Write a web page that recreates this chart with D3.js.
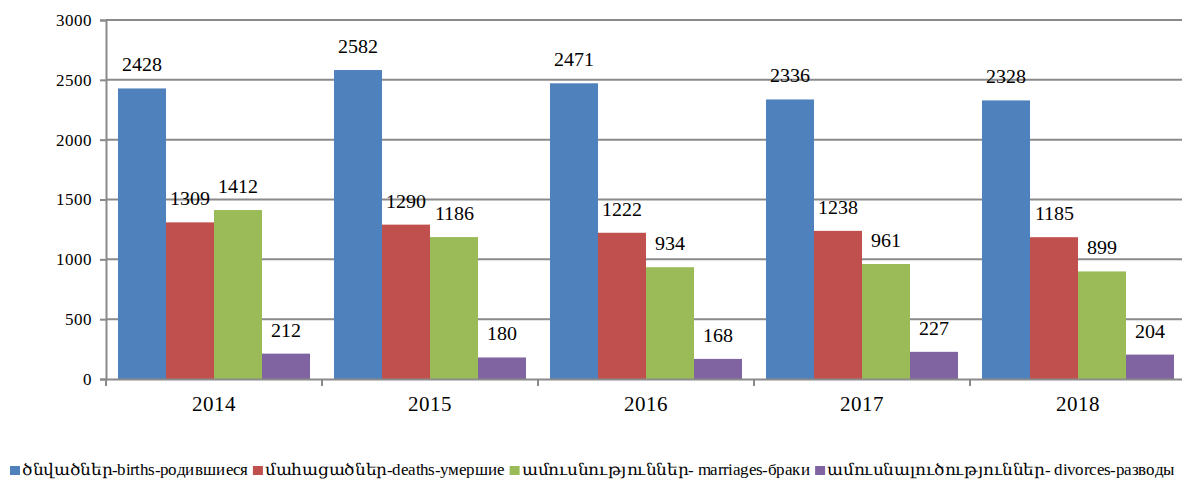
<!DOCTYPE html>
<html>
<head>
<meta charset="utf-8">
<script src="https://cdn.jsdelivr.net/npm/d3@7"></script>
<style>
  @font-face { font-family: "ChartSerif"; src: local("DejaVu Serif"); unicode-range: U+0530-058F; }
  @font-face { font-family: "ChartSerif"; src: local("Liberation Serif"); unicode-range: U+0000-052F, U+2000-206F; }
  body { margin: 0; background: #fff; }
  svg text { font-family: "ChartSerif", "Liberation Serif", "DejaVu Serif", serif; fill: #000; }
</style>
</head>
<body>
<svg id="chart"></svg>
<script>
    var years = ['2014', '2015', '2016', '2017', '2018'];
    var seriesNames = [
        'ծնվածներ-births-родившиеся',
        'մահացածներ-deaths-умершие',
        'ամուսնություններ- marriages-браки',
        'ամուսնալուծություններ- divorces-разводы'
    ];
    var births = [2428, 2582, 2471, 2336, 2328];
    var deaths = [1309, 1290, 1222, 1238, 1185];
    var marriages = [1412, 1186, 934, 961, 899];
    var divorces = [212, 180, 168, 227, 204];
    var yTicks = [0, 500, 1000, 1500, 2000, 2500, 3000];
    var colors = ['#4F81BD', '#C0504D', '#9BBB59', '#8064A2'];

    var width = 1182;
    var height = 480;
    var allSeries = [births, deaths, marriages, divorces];
    var serif = '"ChartSerif", "Liberation Serif", serif';

    var chart = d3.select('#chart')
        .attr('width', width)
        .attr('height', height);

    var x = d3.scaleBand().domain(years).range([106, 1186]);
    var xs = d3.scaleBand().domain(d3.range(4)).range([12, x.bandwidth() - 12]);
    var y = d3.scaleLinear().domain([0, 3000]).range([379, 20]);

    // gridlines
    chart.append('g').selectAll('line')
        .data(yTicks.slice(1))
        .enter().append('line')
        .attr('x1', 106).attr('x2', width)
        .attr('y1', function(d){ return y(d); })
        .attr('y2', function(d){ return y(d); })
        .attr('stroke', '#8a8a8a')
        .attr('stroke-width', 2);

    // bars
    var groups = chart.append('g').selectAll('g')
        .data(years)
        .enter().append('g')
        .attr('transform', function(d){ return 'translate(' + x(d) + ',0)'; });

    groups.selectAll('rect')
        .data(function(d, i){ return allSeries.map(function(s, k){ return {k: k, v: s[i]}; }); })
        .enter().append('rect')
        .attr('x', function(d){ return xs(d.k); })
        .attr('width', xs.bandwidth())
        .attr('y', function(d){ return y(d.v); })
        .attr('height', function(d){ return y(0) - y(d.v); })
        .attr('fill', function(d){ return colors[d.k]; });

    groups.selectAll('text')
        .data(function(d, i){ return allSeries.map(function(s, k){ return {k: k, v: s[i]}; }); })
        .enter().append('text')
        .attr('x', function(d){ return xs(d.k) + xs.bandwidth() / 2; })
        .attr('y', function(d){ return y(d.v) - 17; })
        .attr('text-anchor', 'middle')
        .attr('font-family', serif)
        .style('font-size', '20px')
        .text(function(d){ return d.v; });

    // y axis
    var yAxis = d3.axisLeft(y).tickValues(yTicks).tickFormat(d3.format('d'))
        .tickSize(6).tickPadding(8);
    var axisY = chart.append('g')
        .attr('transform', 'translate(106,0)')
        .call(yAxis)
        .attr('font-family', serif)
        .attr('font-size', 17);
    axisY.select('.domain').attr('stroke', '#8a8a8a').attr('stroke-width', 2);
    axisY.selectAll('.tick line').attr('stroke', '#8a8a8a').attr('stroke-width', 2);
    axisY.selectAll('.tick text').attr('fill', '#000');

    // x axis
    var xAxis = d3.axisBottom(x).tickSize(0).tickPadding(17);
    var axisX = chart.append('g')
        .attr('transform', 'translate(0,379)')
        .call(xAxis)
        .attr('font-family', serif)
        .attr('font-size', 21);
    axisX.select('.domain').attr('stroke', '#8a8a8a').attr('stroke-width', 2);
    axisX.selectAll('.tick text').attr('fill', '#000');
    axisX.selectAll('line.sep')
        .data(years)
        .enter().append('line')
        .attr('class', 'sep')
        .attr('x1', function(d){ return x(d); })
        .attr('x2', function(d){ return x(d); })
        .attr('y1', 0).attr('y2', 7)
        .attr('stroke', '#8a8a8a').attr('stroke-width', 2);

    // legend - stretched to span the full width like the original
    var legend = chart.append('g').attr('transform', 'translate(0,470)');
    var items = seriesNames.map(function(name, k){
        var item = legend.append('g');
        item.append('rect')
            .attr('x', 0).attr('y', -4)
            .attr('width', 10).attr('height', 9)
            .attr('fill', colors[k]);
        var t = item.append('text')
            .attr('x', 12).attr('y', 5)
            .attr('font-family', serif)
            .style('font-size', '16px')
            .text(name);
        return {g: item, t: t, w: t.node().getComputedTextLength()};
    });
    var fixed = 10 + items.length * 12 + (items.length - 1) * 5;
    var scale = (1175 - fixed) / d3.sum(items, function(d){ return d.w; });
    var lx = 10;
    items.forEach(function(d){
        var w = d.w * scale;
        d.g.attr('transform', 'translate(' + lx + ',0)');
        d.t.attr('textLength', w).attr('lengthAdjust', 'spacingAndGlyphs');
        lx += 12 + w + 5;
    });
</script>
</body>
</html>
